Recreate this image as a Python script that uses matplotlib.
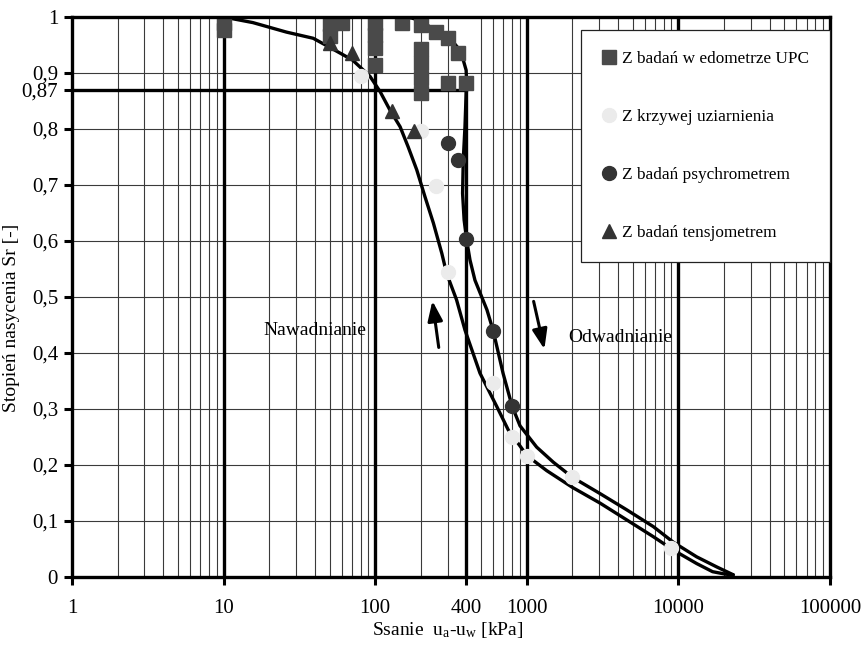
import matplotlib
matplotlib.use("Agg")
import matplotlib.pyplot as plt
from matplotlib.lines import Line2D
import numpy as np

plt.rcParams['font.family'] = ['Liberation Serif', 'DejaVu Serif']
plt.rcParams['mathtext.fontset'] = 'custom'
plt.rcParams['mathtext.rm'] = 'Liberation Serif'
plt.rcParams['mathtext.it'] = 'Liberation Serif:italic'

# ---------------- data ----------------
# Z badań w edometrze UPC (squares)
edo_x = [10, 10, 50, 50, 60, 100, 100, 100, 100, 150, 200, 200, 200, 200, 200, 250, 300, 350, 300, 400]
edo_y = [0.99, 0.977, 0.988, 0.966, 0.99, 0.99, 0.968, 0.945, 0.915, 0.99, 0.986, 0.943, 0.918, 0.891, 0.864, 0.973, 0.962, 0.936, 0.882, 0.882]

# Z krzywej uziarnienia (light circles)
grain_x = [80, 200, 250, 300, 600, 800, 1000, 2000, 9000]
grain_y = [0.895, 0.797, 0.698, 0.545, 0.346, 0.25, 0.216, 0.179, 0.052]

# Z badań psychrometrem (dark circles)
psy_x = [300, 350, 400, 600, 800]
psy_y = [0.775, 0.745, 0.604, 0.44, 0.305]

# Z badań tensjometrem (triangles)
ten_x = [50, 70, 130, 180]
ten_y = [0.954, 0.936, 0.832, 0.797]

# Odwadnianie (drying) curve
dry_x = [10, 30, 60, 100, 150, 175, 200, 237, 270, 311, 362, 381, 398, 401, 398, 391, 381, 377, 386, 401,
         422, 455, 546, 600, 697, 800, 902, 1161, 1496, 2000, 3040, 4560, 6830, 9270, 13200, 17900, 23000]
dry_y = [1.0, 1.0, 1.0, 1.0, 1.0, 0.998, 0.993, 0.98, 0.972, 0.962, 0.941, 0.923, 0.905, 0.88, 0.864, 0.804, 0.745, 0.685, 0.6375, 0.602,
         0.566, 0.53, 0.477, 0.44, 0.364, 0.305, 0.27, 0.232, 0.205, 0.178, 0.149, 0.12, 0.09, 0.062, 0.036, 0.018, 0.004]

# Nawadnianie (wetting) curve
wet_x = [10, 15.6, 26, 39, 50, 71, 92.4, 107.6, 125, 146, 165, 188, 213, 242, 275, 296, 344, 391, 491, 635, 755,
         902, 1000, 1352, 2000, 3040, 4560, 6830, 9270, 13200, 16800, 20500, 23000]
wet_y = [1.0, 0.99, 0.973, 0.962, 0.946, 0.923, 0.894, 0.867, 0.834, 0.804, 0.768, 0.727, 0.679, 0.632, 0.578, 0.542,
         0.495, 0.441, 0.364, 0.304, 0.2625, 0.234, 0.217, 0.19, 0.16, 0.132, 0.102, 0.072, 0.048, 0.024, 0.0095, 0.005, 0.004]

x_ticks = [1, 10, 100, 400, 1000, 10000, 100000]
x_ticklabels = ['1', '10', '100', '400', '1000', '10000', '100000']
y_ticks = [0, 0.1, 0.2, 0.3, 0.4, 0.5, 0.6, 0.7, 0.8, 0.87, 0.9, 1.0]
y_ticklabels = ['0', '0,1', '0,2', '0,3', '0,4', '0,5', '0,6', '0,7', '0,8', '0,87', '0,9', '1']

labels = ['Z badań w edometrze UPC', 'Z krzywej uziarnienia', 'Z badań psychrometrem', 'Z badań tensjometrem']

# ---------------- figure ----------------
fig = plt.figure(figsize=(8.64, 6.48), dpi=100)
ax = fig.add_axes([72/864, 1-577/648, (830-72)/864, (577-17)/648])
ax.set_xscale('log')
ax.set_xlim(1, 100000)
ax.set_ylim(0, 1)

# grid
for dec in [1, 10, 100, 1000, 10000]:
    for m in range(2, 10):
        v = dec * m
        if v == 400:
            continue
        ax.axvline(v, color='#3a3a3a', lw=0.8, zorder=1)
for v in [10, 100, 1000, 10000]:
    ax.axvline(v, color='black', lw=2.4, zorder=1.5)
ax.plot([400, 400], [0, 0.87], color='black', lw=2.4, zorder=1.5)
for yv in np.arange(0.1, 1.0, 0.1):
    ax.axhline(yv, color='#3a3a3a', lw=0.8, zorder=1)
ax.plot([1, 400], [0.87, 0.87], color='black', lw=2.4, zorder=1.5)

# curves
ax.plot(dry_x, dry_y, color='black', lw=2.4, zorder=3, solid_capstyle='round', solid_joinstyle='round')
ax.plot(wet_x, wet_y, color='black', lw=2.4, zorder=3, solid_capstyle='round', solid_joinstyle='round')

# markers
ax.plot(edo_x, edo_y, 's', color='#4a4a4a', ms=10, mec='#4a4a4a', ls='none', zorder=4)
ax.plot(grain_x, grain_y, 'o', color='#ebebeb', ms=10, mec='#ebebeb', ls='none', zorder=4)
ax.plot(psy_x, psy_y, 'o', color='#333333', ms=10, mec='#333333', ls='none', zorder=4)
ax.plot(ten_x, ten_y, '^', color='#333333', ms=10, mec='#333333', ls='none', zorder=4)

# arrows
ax.annotate('', xy=(237, 0.498), xytext=(264, 0.405),
            arrowprops=dict(arrowstyle='-|>,head_length=1.2,head_width=0.45', color='black', lw=2.2), zorder=5)
ax.annotate('', xy=(1318, 0.402), xytext=(1099, 0.497),
            arrowprops=dict(arrowstyle='-|>,head_length=1.2,head_width=0.45', color='black', lw=2.2), zorder=5)

ax.text(40, 0.441, 'Nawadnianie', fontsize=14, ha='center', va='center', zorder=5)
ax.text(4120, 0.427, 'Odwadnianie', fontsize=14, ha='center', va='center', zorder=5)

# spines & ticks
for s in ax.spines.values():
    s.set_linewidth(2.4)
    s.set_color('black')
    s.set_zorder(6)
ax.set_xticks(x_ticks)
ax.set_xticklabels(x_ticklabels)
ax.xaxis.set_minor_locator(matplotlib.ticker.NullLocator())
ax.set_yticks(y_ticks)
ax.set_yticklabels(y_ticklabels)
ax.tick_params(axis='both', direction='out', length=6, width=2.2, labelsize=15, pad=4)
ax.tick_params(axis='x', pad=10)

ax.set_xlabel('Ssanie  u$_{\\mathrm{a}}$-u$_{\\mathrm{w}}$ [kPa]', fontsize=14)
ax.xaxis.set_label_coords((448-72)/758, -(620-577)/560)
ax.set_ylabel('Stopień nasycenia Sr [-]', fontsize=14)
ax.yaxis.set_label_coords(-(72-20)/758, (577-318)/560)

# legend
handles = [
    Line2D([], [], marker='s', color='#4a4a4a', ls='none', ms=10),
    Line2D([], [], marker='o', color='#ebebeb', ls='none', ms=10),
    Line2D([], [], marker='o', color='#333333', ls='none', ms=10),
    Line2D([], [], marker='^', color='#333333', ls='none', ms=10),
]
leg = ax.legend(handles, labels, loc='upper right', bbox_to_anchor=(1.0, (577-30)/560),
                borderaxespad=0, fontsize=12.4, frameon=True, fancybox=False,
                labelspacing=2.45, handlelength=0.8, handletextpad=0.4, borderpad=1.2)
leg.get_frame().set_edgecolor('#222222')
leg.get_frame().set_linewidth(0.9)
leg.get_frame().set_alpha(1)
leg.set_zorder(7)

fig.savefig('out.png', dpi=100)
